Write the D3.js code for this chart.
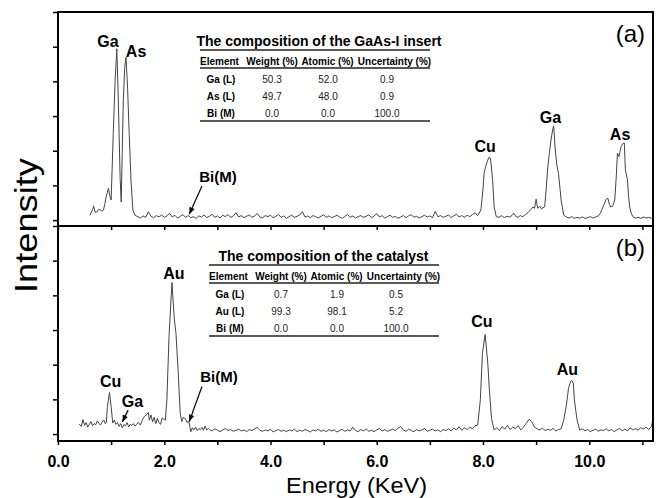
<!DOCTYPE html>
<html>
<head>
<meta charset="utf-8">
<script src="https://cdn.jsdelivr.net/npm/d3@7"></script>
<style>
body { margin: 0; background: #fff; }
text { font-family: "Liberation Sans", Arial, sans-serif; }
</style>
</head>
<body>
<script>
const WIDTH = 656;
const HEIGHT = 498;

// spectrum of the GaAs-I insert, [energy keV, intensity a.u.]
var spectrumA = [
  [0.60,0.14],[0.65,0.30],[0.67,0.41],[0.70,0.22],[0.73,0.23],[0.76,0.30],[0.79,0.31],[0.82,0.26],
  [0.855,0.29],[0.88,0.45],[0.905,0.67],[0.93,0.80],[0.95,0.92],[0.975,0.70],[1.00,0.58],[1.04,2.50],
  [1.075,4.00],[1.107,4.94],[1.13,3.80],[1.15,2.50],[1.17,1.20],[1.19,0.52],[1.21,2.00],[1.23,3.47],
  [1.255,4.40],[1.28,4.69],[1.31,3.80],[1.34,2.50],[1.375,1.10],[1.41,0.29],[1.45,0.14],
  [1.50,0.10],[1.55,0.06],[1.60,0.12],[1.65,0.08],[1.70,0.24],[1.75,0.11],[1.80,0.07],[1.85,0.13],
  [1.90,0.09],[1.95,0.15],[2.00,0.08],[2.05,0.12],[2.10,0.20],[2.15,0.09],[2.20,0.14],[2.25,0.06],
  [2.30,0.11],[2.35,0.16],[2.40,0.08],[2.45,0.13],[2.50,0.07],[2.55,0.10],[2.60,0.05],[2.65,0.12],
  [2.70,0.09],[2.75,0.15],[2.80,0.07],[2.85,0.11],[2.90,0.17],[2.95,0.08],[3.00,0.12],[3.05,0.06],
  [3.10,0.14],[3.15,0.10],[3.20,0.16],[3.25,0.08],[3.30,0.12],[3.35,0.21],[3.40,0.09],[3.45,0.13],
  [3.50,0.07],[3.55,0.11],[3.60,0.15],[3.65,0.08],[3.70,0.12],[3.75,0.19],[3.80,0.09],[3.85,0.06],
  [3.90,0.13],[3.95,0.10],[4.00,0.14],[4.05,0.07],[4.10,0.11],[4.15,0.16],[4.20,0.08],[4.25,0.12],
  [4.30,0.05],[4.35,0.10],[4.40,0.14],[4.45,0.08],[4.50,0.11],[4.55,0.15],[4.60,0.24],[4.65,0.09],
  [4.70,0.12],[4.75,0.07],[4.80,0.13],[4.85,0.10],[4.90,0.06],[4.95,0.11],[5.00,0.15],[5.05,0.08],
  [5.10,0.12],[5.15,0.07],[5.20,0.10],[5.25,0.14],[5.30,0.09],[5.35,0.05],[5.40,0.11],[5.45,0.16],
  [5.50,0.08],[5.55,0.12],[5.60,0.06],[5.65,0.10],[5.70,0.13],[5.75,0.08],[5.80,0.11],[5.85,0.15],
  [5.90,0.07],[5.95,0.12],[6.00,0.19],[6.05,0.09],[6.10,0.13],[6.15,0.06],[6.20,0.10],[6.25,0.14],
  [6.30,0.08],[6.35,0.11],[6.40,0.05],[6.45,0.09],[6.50,0.13],[6.55,0.07],[6.60,0.12],[6.65,0.16],
  [6.70,0.08],[6.75,0.11],[6.80,0.06],[6.85,0.10],[6.90,0.14],[6.95,0.09],[7.00,0.12],[7.05,0.07],
  [7.10,0.25],[7.15,0.10],[7.20,0.13],[7.25,0.08],[7.30,0.11],[7.35,0.15],[7.40,0.07],[7.45,0.12],
  [7.50,0.17],[7.55,0.09],[7.60,0.13],[7.65,0.08],[7.70,0.14],[7.75,0.10],[7.80,0.16],[7.85,0.21],
  [7.90,0.13],[7.96,0.29],[8.00,0.90],[8.02,1.35],[8.05,1.55],[8.09,1.73],[8.12,1.82],[8.14,1.78],
  [8.16,1.50],[8.18,1.16],[8.21,0.38],[8.25,0.10],[8.30,0.08],[8.35,0.13],[8.40,0.07],[8.45,0.11],
  [8.50,0.09],[8.55,0.14],[8.58,0.20],[8.62,0.10],[8.66,0.08],[8.70,0.13],[8.75,0.10],[8.80,0.16],
  [8.85,0.22],[8.90,0.30],[8.94,0.38],[8.97,0.34],[9.00,0.60],[9.03,0.34],[9.07,0.40],[9.10,0.32],
  [9.13,0.36],[9.16,0.38],[9.19,0.90],[9.22,1.54],[9.25,1.95],[9.28,2.31],[9.31,2.60],[9.33,2.72],
  [9.36,2.02],[9.39,1.59],[9.42,1.35],[9.45,0.90],[9.47,0.58],[9.52,0.14],[9.57,0.09],[9.62,0.06],
  [9.67,0.10],[9.72,0.05],[9.77,0.08],[9.82,0.06],[9.87,0.09],[9.92,0.05],[9.97,0.07],[10.02,0.10],
  [10.07,0.06],[10.12,0.09],[10.17,0.12],[10.21,0.20],[10.25,0.35],[10.29,0.49],[10.32,0.60],[10.35,0.63],
  [10.38,0.45],[10.40,0.38],[10.44,0.40],[10.48,0.58],[10.51,1.30],[10.53,1.93],[10.56,1.83],[10.58,2.00],
  [10.60,2.12],[10.63,2.20],[10.66,2.22],[10.68,1.45],[10.70,1.30],[10.72,1.16],[10.74,0.70],[10.76,0.38],
  [10.79,0.20],[10.82,0.10],[10.87,0.06],[10.92,0.08],[10.97,0.05],[11.02,0.09],[11.07,0.06],[11.12,0.08],
  [11.17,0.05],[11.20,0.07]
];

// spectrum of the catalyst
var spectrumB = [
  [0.40,0.29],[0.44,0.22],[0.47,0.42],[0.50,0.25],[0.53,0.33],[0.56,0.20],[0.59,0.28],[0.62,0.36],
  [0.65,0.24],[0.68,0.30],[0.71,0.27],[0.74,0.38],[0.77,0.31],[0.80,0.26],[0.83,0.34],[0.86,0.41],
  [0.89,0.30],[0.91,0.33],[0.93,0.79],[0.97,1.20],[1.00,0.79],[1.03,0.32],[1.06,0.40],[1.09,0.28],
  [1.12,0.33],[1.15,0.22],[1.18,0.30],[1.21,0.18],[1.24,0.27],[1.27,0.24],[1.30,0.33],[1.33,0.21],
  [1.36,0.28],[1.39,0.25],[1.42,0.30],[1.45,0.23],[1.48,0.28],[1.51,0.34],[1.55,0.26],[1.58,0.38],
  [1.62,0.50],[1.66,0.55],[1.70,0.62],[1.72,0.40],[1.75,0.55],[1.78,0.35],[1.81,0.48],[1.84,0.30],
  [1.87,0.45],[1.90,0.33],[1.93,0.28],[1.96,0.47],[1.99,0.43],[2.02,0.40],[2.05,0.99],[2.09,2.82],
  [2.145,4.37],[2.19,3.30],[2.22,2.92],[2.26,1.86],[2.30,0.60],[2.33,0.36],[2.36,0.48],[2.40,0.44],
  [2.43,0.33],[2.46,0.38],[2.50,0.07],[2.53,0.18],[2.56,0.12],[2.59,0.20],[2.62,0.10],[2.65,0.16],
  [2.68,0.13],[2.71,0.19],[2.74,0.11],[2.77,0.23],[2.80,0.12],[2.83,0.16],
  [2.85,0.13],[2.90,0.09],[2.95,0.15],[3.00,0.11],[3.05,0.07],[3.10,0.12],[3.15,0.16],[3.20,0.10],
  [3.25,0.13],[3.30,0.08],[3.35,0.11],[3.40,0.14],[3.45,0.09],[3.50,0.12],[3.55,0.07],[3.60,0.13],
  [3.65,0.10],[3.70,0.15],[3.75,0.19],[3.80,0.11],[3.85,0.08],[3.90,0.12],[3.95,0.09],[4.00,0.14],
  [4.05,0.06],[4.10,0.10],[4.15,0.13],[4.20,0.08],[4.25,0.11],[4.30,0.07],[4.35,0.12],[4.40,0.09],
  [4.45,0.14],[4.50,0.07],[4.55,0.11],[4.60,0.08],[4.65,0.13],[4.70,0.10],[4.75,0.06],[4.80,0.12],
  [4.85,0.09],[4.90,0.14],[4.95,0.08],[5.00,0.11],[5.05,0.07],[5.10,0.13],[5.15,0.09],[5.20,0.12],
  [5.25,0.06],[5.30,0.10],[5.35,0.14],[5.40,0.08],[5.45,0.12],[5.50,0.09],[5.55,0.20],[5.60,0.10],
  [5.65,0.07],[5.70,0.13],[5.75,0.09],[5.80,0.15],[5.85,0.08],[5.90,0.11],[5.95,0.07],[6.00,0.12],
  [6.05,0.16],[6.10,0.09],[6.15,0.13],[6.20,0.08],[6.25,0.11],[6.30,0.14],[6.35,0.10],[6.40,0.17],
  [6.45,0.22],[6.50,0.12],[6.55,0.08],[6.60,0.14],[6.65,0.10],[6.70,0.07],[6.75,0.13],[6.80,0.09],
  [6.85,0.12],[6.90,0.16],[6.95,0.08],[7.00,0.11],[7.05,0.14],[7.10,0.09],[7.15,0.12],[7.20,0.07],
  [7.25,0.13],[7.30,0.10],[7.35,0.15],[7.40,0.09],[7.45,0.17],[7.50,0.12],[7.55,0.21],[7.60,0.11],
  [7.65,0.18],[7.70,0.13],[7.75,0.20],[7.80,0.15],[7.85,0.24],[7.90,0.26],[7.95,0.99],[7.99,2.35],
  [8.04,2.87],[8.09,2.05],[8.12,1.28],[8.16,0.45],[8.21,0.12],[8.26,0.18],[8.31,0.10],[8.36,0.22],
  [8.41,0.14],[8.46,0.25],[8.51,0.13],[8.56,0.20],[8.61,0.16],[8.66,0.24],[8.71,0.12],[8.76,0.20],
  [8.81,0.30],[8.87,0.43],[8.92,0.35],[8.97,0.20],[9.02,0.15],[9.07,0.12],[9.12,0.17],[9.17,0.10],
  [9.22,0.14],[9.27,0.11],[9.32,0.16],[9.37,0.09],[9.42,0.13],[9.47,0.15],[9.52,0.41],[9.57,0.84],
  [9.61,1.32],[9.65,1.52],[9.67,1.55],[9.70,1.47],[9.72,0.99],[9.77,0.41],[9.82,0.12],[9.87,0.15],
  [9.92,0.09],[9.97,0.13],[10.02,0.07],[10.07,0.11],[10.12,0.14],[10.17,0.08],[10.22,0.12],[10.27,0.10],
  [10.32,0.15],[10.37,0.09],[10.42,0.13],[10.47,0.07],[10.52,0.12],[10.57,0.16],[10.62,0.10],[10.67,0.14],
  [10.72,0.09],[10.77,0.18],[10.82,0.12],[10.87,0.16],[10.92,0.11],[10.97,0.19],[11.02,0.14],[11.07,0.20],
  [11.12,0.13],[11.17,0.22],[11.20,0.43]
];

var xTickValues = [0,1,2,3,4,5,6,7,8,9,10,11];
var xLabelValues = [0,2,4,6,8,10];
var yTickValues = [0,1,2,3,4,5,6];

// peak labels: text, energy, intensity (baseline), font size
var labelsA = [["Ga",0.94,5.00,16],["As",1.47,4.71,16],["Bi(M)",3.01,1.10,15],
               ["Cu",8.04,1.97,16],["Ga",9.27,2.80,16],["As",10.58,2.31,16]];
var labelsB = [["Cu",0.99,1.36,16],["Ga",1.40,0.78,16],["Au",2.18,4.48,16],["Bi(M)",3.03,1.51,15],
               ["Cu",7.98,3.09,16],["Au",9.59,1.71,16]];
// arrows: from [e, v] to [e, v]
var arrowsA = [[2.71,0.98,2.47,0.17]];
var arrowsB = [[2.71,1.37,2.47,0.36],[1.32,0.69,1.21,0.35]];

var tableHeader = ["Element","Weight (%)","Atomic (%)","Uncertainty (%)"];
var tableTitleA = "The composition of the GaAs-I insert";
var tableRowsA = [["Ga (L)","50.3","52.0","0.9"],["As (L)","49.7","48.0","0.9"],["Bi (M)","0.0","0.0","100.0"]];
var tableTitleB = "The composition of the catalyst";
var tableRowsB = [["Ga (L)","0.7","1.9","0.5"],["Au (L)","99.3","98.1","5.2"],["Bi (M)","0.0","0.0","100.0"]];

var svg = d3.select('body').append('svg')
    .attr('width', WIDTH)
    .attr('height', HEIGHT);

svg.append('defs').append('marker')
    .attr('id', 'arrow')
    .attr('viewBox', '0 0 10 10')
    .attr('refX', 10).attr('refY', 5)
    .attr('markerWidth', 7).attr('markerHeight', 7)
    .attr('markerUnits', 'userSpaceOnUse')
    .attr('orient', 'auto')
    .append('path')
    .attr('d', 'M0,1 L10,5 L0,9 z')
    .attr('fill', '#000');

var xScale = d3.scaleLinear().domain([0, 11.2]).range([58, 653]);

var panels = [
    {top: 12, bottom: 226, ymin: -0.17, data: spectrumA, labels: labelsA, arrows: arrowsA,
     tag: '(a)', title: tableTitleA, rows: tableRowsA, dx: 0, dy: 0, last: false},
    {top: 226, bottom: 441, ymin: -0.2, data: spectrumB, labels: labelsB, arrows: arrowsB,
     tag: '(b)', title: tableTitleB, rows: tableRowsB, dx: 9, dy: 215, last: true}
];

var drawTable = function (g, p) {
    var left = 200 + p.dx, right = 430 + p.dx;
    var headX = [219.5, 272, 327.5, 394.5];
    var valX = [221, 272, 328, 387];
    g.append('text')
        .attr('x', (left + right) / 2 + 4 - p.dx / 2)
        .attr('y', 46 + p.dy)
        .attr('text-anchor', 'middle')
        .attr('font-size', 14).attr('font-weight', 'bold')
        .text(p.title);
    [50, 68, 121].forEach(function (yy) {
        g.append('line')
            .attr('x1', left).attr('x2', right)
            .attr('y1', yy + p.dy).attr('y2', yy + p.dy)
            .attr('stroke', '#222').attr('stroke-width', 1.5);
    });
    tableHeader.forEach(function (h, i) {
        g.append('text')
            .attr('x', headX[i] + p.dx).attr('y', 64.5 + p.dy)
            .attr('text-anchor', 'middle')
            .attr('font-size', 10).attr('font-weight', 'bold')
            .text(h);
    });
    p.rows.forEach(function (row, r) {
        row.forEach(function (cell, i) {
            g.append('text')
                .attr('x', valX[i] + p.dx).attr('y', 82.5 + r * 17 + p.dy)
                .attr('text-anchor', 'middle')
                .attr('font-size', 10)
                .attr('font-weight', i === 0 ? 'bold' : 'normal')
                .attr('fill', i === 0 ? '#000' : '#222')
                .text(cell);
        });
    });
};

panels.forEach(function (p) {
    var yScale = d3.scaleLinear().domain([p.ymin, 6]).range([p.bottom, p.top]);
    var g = svg.append('g');

    var yAxis = d3.axisLeft(yScale).tickValues(yTickValues).tickSize(5).tickFormat('');
    g.append('g')
        .attr('transform', 'translate(58,0)')
        .call(yAxis)
        .call(function (s) { s.select('.domain').remove(); })
        .selectAll('line').attr('stroke-width', 1.5);

    var xAxis = d3.axisBottom(xScale).tickValues(xTickValues).tickSize(4).tickPadding(11)
        .tickFormat(function (d) { return (p.last && xLabelValues.indexOf(d) >= 0) ? d.toFixed(1) : ''; });
    var xg = g.append('g')
        .attr('transform', 'translate(0,' + p.bottom + ')')
        .call(xAxis)
        .call(function (s) { s.select('.domain').remove(); });
    xg.selectAll('line').attr('stroke-width', 1.5);
    xg.selectAll('text')
        .attr('font-size', 16).attr('font-weight', 'bold')
        .attr('font-family', '"Liberation Sans", Arial, sans-serif')
        .attr('fill', '#000');

    var line = d3.line()
        .x(function (d) { return xScale(d[0]); })
        .y(function (d) { return yScale(d[1]); });

    g.append('path')
        .attr('d', line(p.data))
        .attr('fill', 'none')
        .attr('stroke', '#444')
        .attr('stroke-width', 1);

    g.append('rect')
        .attr('x', 58).attr('y', p.top)
        .attr('width', 595).attr('height', p.bottom - p.top)
        .attr('fill', 'none')
        .attr('stroke', '#000')
        .attr('stroke-width', 2);

    g.selectAll('.peak')
        .data(p.labels)
        .enter().append('text')
        .attr('x', function (d) { return xScale(d[1]); })
        .attr('y', function (d) { return yScale(d[2]); })
        .attr('text-anchor', 'middle')
        .attr('font-size', function (d) { return d[3]; })
        .attr('font-weight', 'bold')
        .text(function (d) { return d[0]; });

    g.selectAll('.arr')
        .data(p.arrows)
        .enter().append('line')
        .attr('x1', function (d) { return xScale(d[0]); })
        .attr('y1', function (d) { return yScale(d[1]); })
        .attr('x2', function (d) { return xScale(d[2]); })
        .attr('y2', function (d) { return yScale(d[3]); })
        .attr('stroke', '#000')
        .attr('stroke-width', 1.2)
        .attr('marker-end', 'url(#arrow)');

    g.append('text')
        .attr('x', 645)
        .attr('y', p.top + 30)
        .attr('text-anchor', 'end')
        .attr('font-size', 24)
        .text(p.tag);

    drawTable(g, p);
});

svg.append('text')
    .attr('transform', 'translate(37,225.5) rotate(-90)')
    .attr('text-anchor', 'middle')
    .attr('font-size', 32)
    .attr('textLength', 135)
    .attr('lengthAdjust', 'spacingAndGlyphs')
    .text('Intensity');

svg.append('text')
    .attr('x', 356.5)
    .attr('y', 493)
    .attr('text-anchor', 'middle')
    .attr('font-size', 22)
    .attr('textLength', 141)
    .attr('lengthAdjust', 'spacingAndGlyphs')
    .text('Energy (KeV)');
</script>
</body>
</html>
